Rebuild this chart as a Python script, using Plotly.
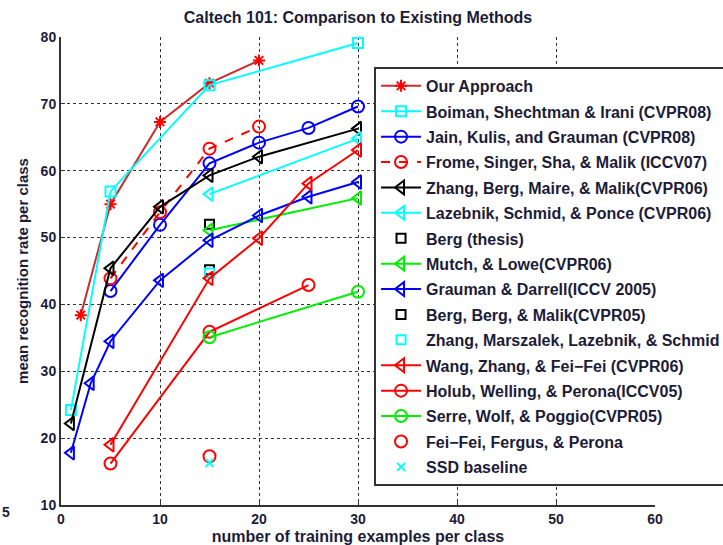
import plotly.graph_objects as go

# Caltech 101 mean recognition rate per class vs. number of training examples
our_x = [2, 5, 10, 15, 20]
our_y = [38.4, 55.0, 67.3, 73.1, 76.5]

boiman_x = [1, 5, 15, 30]
boiman_y = [24.2, 56.9, 72.8, 79.1]

jain_x = [5, 10, 15, 20, 25, 30]
jain_y = [42.0, 51.9, 61.1, 64.2, 66.4, 69.6]

frome_x = [5, 10, 15, 20]
frome_y = [43.9, 53.8, 63.3, 66.6]

zbmm_x = [1, 5, 10, 15, 20, 30]
zbmm_y = [22.2, 45.4, 54.6, 59.3, 62.1, 66.3]

lazebnik_x = [15, 30]
lazebnik_y = [56.5, 64.8]

berg_thesis_x = [15]
berg_thesis_y = [52.0]

mutch_x = [15, 30]
mutch_y = [51.1, 55.9]

grauman_x = [1, 3, 5, 10, 15, 20, 25, 30]
grauman_y = [17.8, 28.2, 34.5, 43.6, 49.6, 53.3, 56.1, 58.3]

bbm_x = [15]
bbm_y = [45.2]

zmls_x = [15]
zmls_y = [44.7]

wang_x = [5, 15, 20, 25, 30]
wang_y = [19.0, 43.9, 49.9, 58.1, 63.1]

holub_x = [5, 15, 25]
holub_y = [16.2, 35.9, 42.9]

serre_x = [15, 30]
serre_y = [35.1, 41.9]

feifei_x = [15]
feifei_y = [17.3]

ssd_x = [15]
ssd_y = [16.3]

RED, CYAN, BLUE, BLACK, GREEN = "#ff0000", "#00ffff", "#0000ff", "#000000", "#00ee00"

series = [
    ("Our Approach", our_x, our_y, "#cc2e2e", RED, "asterisk-open", 10, "solid", True),
    ("Boiman, Shechtman & Irani (CVPR08)", boiman_x, boiman_y, CYAN, CYAN, "square-open", 10, "solid", True),
    ("Jain, Kulis, and Grauman (CVPR08)", jain_x, jain_y, BLUE, BLUE, "circle-open", 12, "solid", True),
    ("Frome, Singer, Sha, & Malik (ICCV07)", frome_x, frome_y, RED, RED, "circle-open", 12, "dash", True),
    ("Zhang, Berg, Maire, & Malik(CVPR06)", zbmm_x, zbmm_y, BLACK, BLACK, "triangle-left-open", 12, "solid", True),
    ("Lazebnik, Schmid, & Ponce (CVPR06)", lazebnik_x, lazebnik_y, CYAN, CYAN, "triangle-left-open", 12, "solid", True),
    ("Berg (thesis)", berg_thesis_x, berg_thesis_y, BLACK, BLACK, "square-open", 9, "solid", False),
    ("Mutch, & Lowe(CVPR06)", mutch_x, mutch_y, GREEN, GREEN, "triangle-left-open", 12, "solid", True),
    ("Grauman & Darrell(ICCV 2005)", grauman_x, grauman_y, BLUE, BLUE, "triangle-left-open", 12, "solid", True),
    ("Berg, Berg, & Malik(CVPR05)", bbm_x, bbm_y, BLACK, BLACK, "square-open", 9, "solid", False),
    ("Zhang, Marszalek, Lazebnik, & Schmid", zmls_x, zmls_y, CYAN, CYAN, "square-open", 9, "solid", False),
    ("Wang, Zhang, & Fei\u2212Fei (CVPR06)", wang_x, wang_y, RED, RED, "triangle-left-open", 12, "solid", True),
    ("Holub, Welling, & Perona(ICCV05)", holub_x, holub_y, RED, RED, "circle-open", 12, "solid", True),
    ("Serre, Wolf, & Poggio(CVPR05)", serre_x, serre_y, GREEN, GREEN, "circle-open", 12, "solid", True),
    ("Fei\u2212Fei, Fergus, & Perona", feifei_x, feifei_y, RED, RED, "circle-open", 12, "solid", False),
    ("SSD baseline", ssd_x, ssd_y, CYAN, CYAN, "x-thin-open", 8, "solid", False),
]

fig = go.Figure()
for i, (name, xs, ys, lcol, mcol, sym, size, dash, lines) in enumerate(series):
    fig.add_trace(go.Scatter(
        x=xs, y=ys, name=name,
        mode="lines+markers" if lines else "markers",
        line=dict(color=lcol, width=2, dash=dash),
        marker=dict(symbol=sym, size=size, color=mcol,
                    line=dict(color=mcol, width=2)),
        legendgroup=f"g{i}",
    ))

TXT = "#1c1c38"
FONT = "Liberation Sans, Arial, sans-serif"

fig.update_layout(
    width=723, height=545,
    margin=dict(l=61, r=68, t=37, b=40, autoexpand=False),
    paper_bgcolor="white", plot_bgcolor="white",
    font=dict(family=FONT, size=14, color=TXT, weight="bold"),
    title=dict(text="Caltech 101: Comparison to Existing Methods",
               x=0.5, xref="paper", xanchor="center",
               y=1 - 17 / 545, yref="container", yanchor="middle",
               font=dict(size=16, color=TXT, weight="bold")),
    showlegend=True,
    legend=dict(x=0.527, xanchor="left", y=0.936, yanchor="top",
                bgcolor="white", bordercolor="#333333", borderwidth=2,
                font=dict(size=16, color=TXT, weight="bold"),
                tracegroupgap=1.6, itemwidth=40),
    xaxis=dict(range=[0, 60], dtick=10, tick0=0,
               showgrid=True, gridcolor="#333333", gridwidth=1.3, griddash="dot",
               showline=True, linecolor="#333333", linewidth=2,
               ticks="inside", ticklen=4, tickcolor="#333333",
               zeroline=False,
               title=dict(text="number of training examples per class",
                          font=dict(size=16, color=TXT, weight="bold"), standoff=6),
               tickfont=dict(size=14, color=TXT, weight="bold")),
    yaxis=dict(range=[10, 80], dtick=10, tick0=10,
               showgrid=True, gridcolor="#333333", gridwidth=1.3, griddash="dot",
               showline=True, linecolor="#333333", linewidth=2,
               ticks="inside", ticklen=4, tickcolor="#333333",
               zeroline=False,
               title=dict(text="mean recognition rate per class",
                          font=dict(size=15, color=TXT, weight="bold"), standoff=8),
               tickfont=dict(size=14, color=TXT, weight="bold")),
)

# stray numeral at the lower-left edge
fig.add_annotation(text="5", xref="paper", yref="paper",
                   x=-55 / 594, y=-7 / 468, xanchor="center", yanchor="middle",
                   showarrow=False, font=dict(size=14, color=TXT, weight="bold"))

fig.write_html("out.html")
